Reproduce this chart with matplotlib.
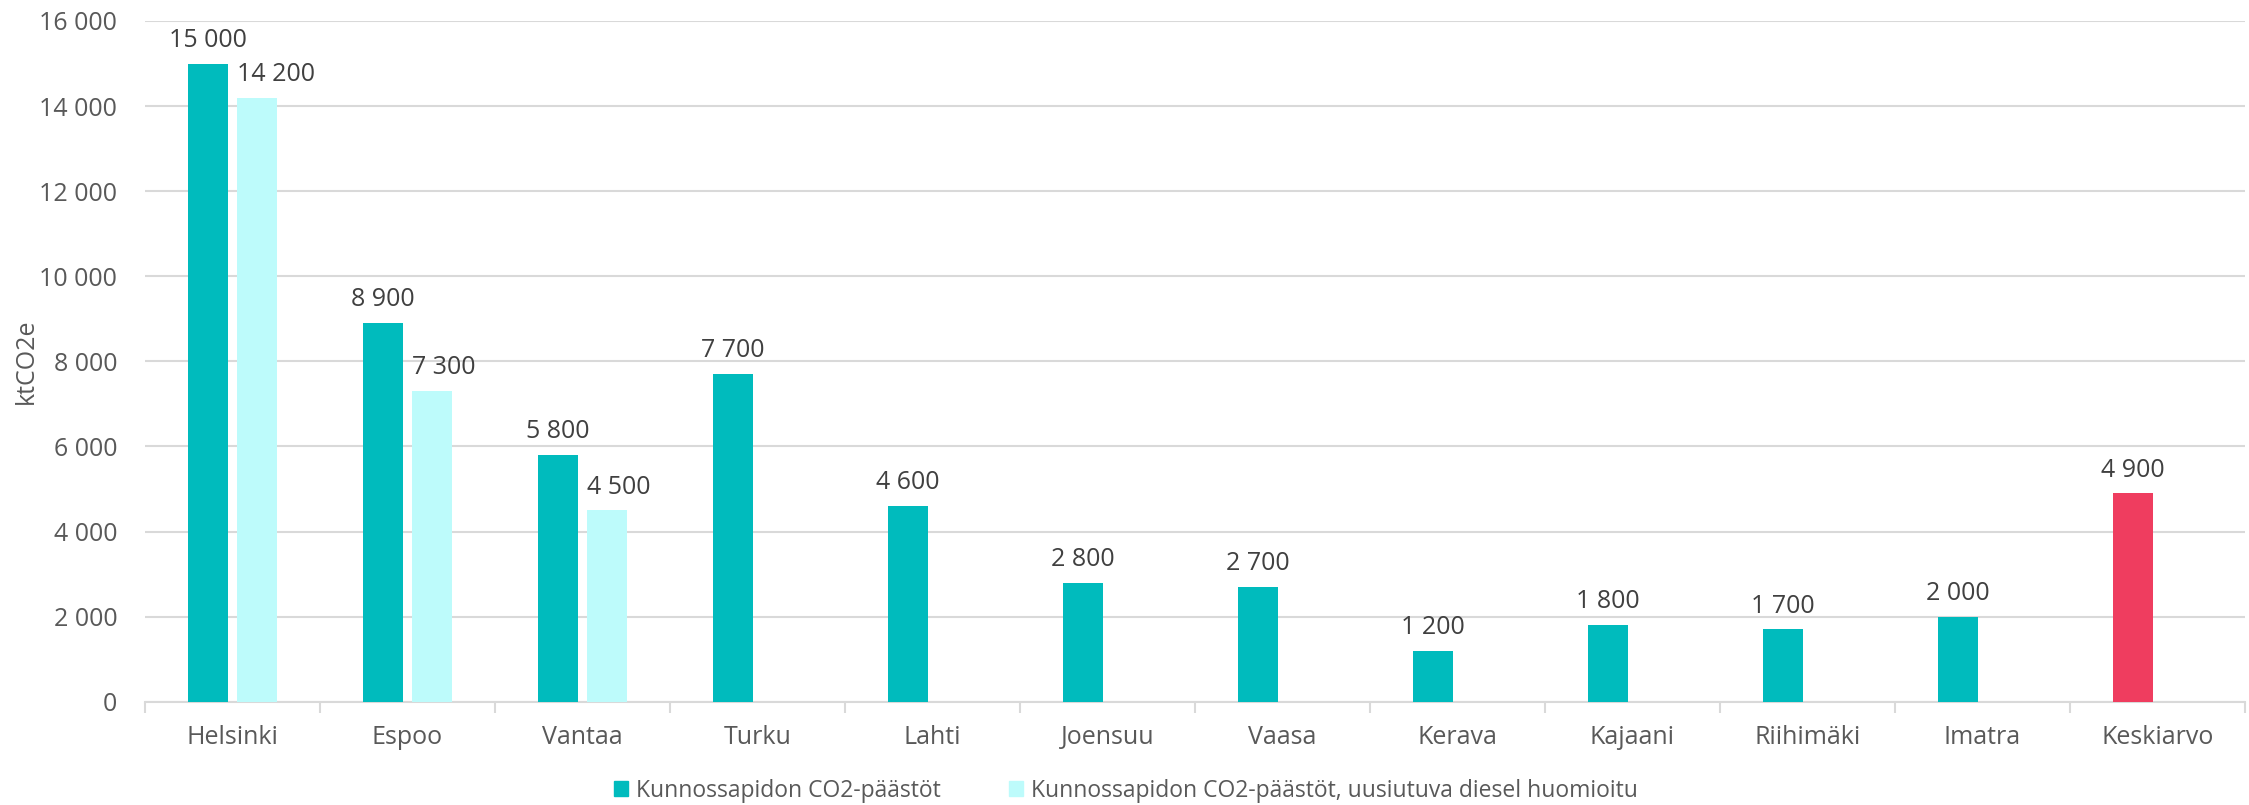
import numpy as np
import matplotlib
matplotlib.use("Agg")
import matplotlib.pyplot as plt
from matplotlib.patches import Patch

plt.rcParams['font.family'] = ['Open Sans', 'DejaVu Sans']

categories = ["Helsinki", "Espoo", "Vantaa", "Turku", "Lahti", "Joensuu", "Vaasa",
              "Kerava", "Kajaani", "Riihimäki", "Imatra", "Keskiarvo"]
emissions = [15000, 8900, 5800, 7700, 4600, 2800, 2700, 1200, 1800, 1700, 2000, 4900]
emissions_renewable = [14200, 7300, 4500, None, None, None, None, None, None, None, None, None]
series_names = ["Kunnossapidon CO2-päästöt",
                "Kunnossapidon CO2-päästöt, uusiutuva diesel huomioitu"]
yticks = [0, 2000, 4000, 6000, 8000, 10000, 12000, 14000, 16000]

c_dark = "#00BBBD"
c_light = "#BDFBFB"
c_avg = "#EF3D5F"
grid_c = "#D9D9D9"
tick_c = "#595959"
lab_c = "#404040"
fs = 18

def fmt(v):
    return f"{int(v):,}".replace(",", " ")

fig = plt.figure(figsize=(22.49, 8.05), dpi=100)
ax = fig.add_axes([145/2249, 1-701.7/805, 2100/2249, (701.7-21)/805])

x = np.arange(len(categories))
w = 0.223
off = 0.14
colors = [c_avg if c == "Keskiarvo" else c_dark for c in categories]
ax.bar(x - off, emissions, width=w, color=colors, zorder=3)
for xi, v in zip(x, emissions):
    ax.annotate(fmt(v), (xi - off, v), xytext=(0, 12), textcoords="offset points",
                ha="center", va="baseline", fontsize=fs, color=lab_c)
for xi, v in zip(x, emissions_renewable):
    if v is not None:
        ax.bar(xi + off, v, width=w, color=c_light, zorder=3)
        ax.annotate(fmt(v), (xi + off - w / 2, v), xytext=(0, 12), textcoords="offset points",
                    ha="left", va="baseline", fontsize=fs, color=lab_c)

ax.set_xlim(-0.5, len(categories) - 0.5)
ax.set_ylim(0, 16000)
ax.set_yticks(yticks)
ax.set_yticklabels([fmt(t) for t in yticks])
ax.yaxis.grid(True, color=grid_c, linewidth=1.5, zorder=0)
ax.set_axisbelow(True)
ax.tick_params(axis="y", length=0, labelsize=fs, labelcolor=tick_c, pad=20)
ax.set_xticks(x)
ax.set_xticklabels(categories)
ax.set_xticks(np.arange(-0.5, len(categories)), minor=True)
ax.tick_params(axis="x", which="major", length=0, labelsize=fs, labelcolor=tick_c, pad=17)
ax.tick_params(axis="x", which="minor", length=8, width=1.5, color=grid_c)
for s in ["top", "right", "left"]:
    ax.spines[s].set_visible(False)
ax.spines["bottom"].set_color(grid_c)
ax.spines["bottom"].set_linewidth(1.5)
ax.set_ylabel("ktCO2e", fontsize=fs, color=tick_c, labelpad=0)

handles = [Patch(color=c_dark), Patch(color=c_light)]
fig.legend(handles, series_names, loc="center", bbox_to_anchor=(0.5007, 0.018), ncol=2,
           frameon=False, fontsize=16.5, labelcolor=tick_c, handlelength=0.6, handleheight=0.6,
           handletextpad=0.35, columnspacing=3.0)

fig.savefig("out.png", dpi=100)
